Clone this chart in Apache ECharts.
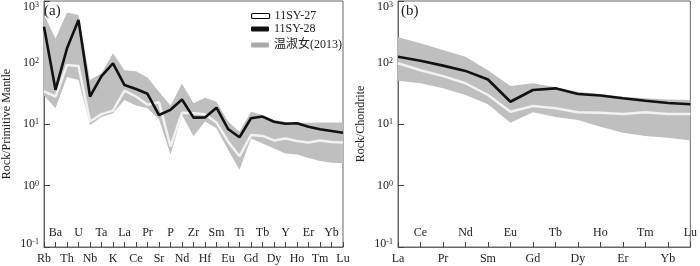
<!DOCTYPE html>
<html><head><meta charset="utf-8">
<script src="https://cdn.jsdelivr.net/npm/echarts@6/dist/echarts.min.js"></script>
<style>html,body{margin:0;padding:0;background:#fff}#c{width:700px;height:266px}</style>
</head><body><div id="c"></div>
<script>
// ---------- data ----------
const catsA = ['Rb','Ba','Th','U','Nb','Ta','K','La','Ce','Pr','Sr','P','Nd','Zr','Hf','Sm','Eu','Ti','Gd','Tb','Dy','Y','Ho','Er','Tm','Yb','Lu'];
const sy28A = [382, 36, 170, 490, 28, 60, 97, 43, 37, 31, 14, 17, 25, 12.7, 12.8, 18.4, 8.3, 6.1, 12.4, 13.2, 10.9, 10.1, 10.3, 9.0, 8.2, 7.7, 7.2];
const sy27A = [34, 28, 91, 88, 11, 14.5, 16.5, 35, 28, 20.5, 22.5, 4.3, 15.3, 14.9, 14.4, 10.5, 5.2, 3.0, 6.6, 6.4, 5.4, 5.8, 5.3, 5.0, 5.4, 5.1, 5.0];
const upperA = [600, 245, 650, 590, 52, 67, 141, 75, 72, 57, 33.5, 20, 45, 21.7, 26.8, 23, 11, 7.5, 15.8, 14, 11.6, 10.9, 10.5, 10.5, 10.6, 10.6, 10.6];
const lowerA = [29, 18, 58, 52, 9.6, 13, 15, 24.5, 20, 18, 12, 3.2, 14, 6.3, 11, 8.5, 3.8, 1.8, 5.8, 4.8, 4.0, 3.3, 3.2, 2.8, 2.5, 2.35, 2.3];

const catsB = ['La','Ce','Pr','Nd','Sm','Eu','Gd','Tb','Dy','Ho','Er','Tm','Yb','Lu'];
const sy28B = [124, 107, 89, 73, 53, 23, 35.7, 38, 30.7, 29, 26.2, 23.9, 22, 20.9];
const sy27B = [97, 75, 60, 46, 29.6, 15.8, 19.6, 18, 15.5, 15.3, 14.5, 15.5, 14.5, 14.5];
const upperB = [257, 205, 160, 124, 75, 41.5, 46, 39.7, 33.5, 30.7, 27.8, 26.3, 25, 24.5];
const lowerB = [50.7, 46, 38, 29.6, 21, 10.5, 15.5, 13, 11.6, 9.0, 7.2, 6.4, 6.0, 5.4];

const names = ['11SY-27', '11SY-28', '温淑女(2013)'];
const yTitles = ['Rock/Primitive Mantle', 'Rock/Chondrite'];

// ---------- styles ----------
const FONT = "'Liberation Serif', 'Noto Sans CJK SC', serif";
const TXT = '#222';
const AX = '#666';
const BAND = '#bfbfbf';

function yLabel(v){
  const e = Math.round(Math.log10(v));
  if (e === 3) return '{t|10}{ts|3}';
  if (e === -1) return '{d|10}{ds|-1}';
  return '{b|10}{s|' + e + '}';
}
const rich = {
  b: {fontSize:12, fontFamily:FONT, color:TXT},
  s: {fontSize:8, fontFamily:FONT, color:TXT, verticalAlign:'top'},
  t: {fontSize:12, fontFamily:FONT, color:TXT, padding:[12,0,0,0]},
  ts: {fontSize:8, fontFamily:FONT, color:TXT, verticalAlign:'top', padding:[12,0,0,0]},
  d: {fontSize:12, fontFamily:FONT, color:TXT, padding:[0,0,6,0]},
  ds: {fontSize:8, fontFamily:FONT, color:TXT, verticalAlign:'top', padding:[0,0,6,0]}
};

function xAxes(g, cats){
  const lab = {fontFamily:FONT, fontSize:12, color:TXT};
  return [
    {type:'category', gridIndex:g, data:cats, boundaryGap:false, position:'bottom',
     axisLine:{show:true, lineStyle:{color:AX, width:1}},
     axisTick:{show:true, inside:true, length:5, interval:0, lineStyle:{color:'#444'}},
     axisLabel:Object.assign({interval:(i)=>i%2===0, margin:6}, lab),
     splitLine:{show:false}},
    {type:'category', gridIndex:g, data:cats, boundaryGap:false, position:'bottom',
     axisLine:{show:false}, axisTick:{show:false},
     axisLabel:Object.assign({inside:true, interval:(i)=>i%2===1, margin:8}, lab),
     splitLine:{show:false}}
  ];
}
function yAxis(g, title){
  return {type:'log', gridIndex:g, min:0.1, max:1000, logBase:10,
    axisLine:{show:true, lineStyle:{color:AX, width:1}},
    axisTick:{show:true, inside:true, length:6, lineStyle:{color:'#444'}},
    axisLabel:{formatter:yLabel, rich:rich, margin:5},
    minorTick:{show:false}, splitLine:{show:false},
    name:title, nameLocation:'middle', nameGap:31,
    nameTextStyle:{fontFamily:FONT, fontSize:12, color:TXT}};
}
function seriesFor(xi, yi, lower, upper, s27, s28, key){
  return [
    {type:'line', xAxisIndex:xi, yAxisIndex:yi, data:lower, stack:key, name:'low'+key,
     symbol:'none', lineStyle:{opacity:0, width:0}, silent:true, z:1},
    {type:'line', xAxisIndex:xi, yAxisIndex:yi, data:upper.map((u,i)=>u-lower[i]), stack:key, name:names[2],
     symbol:'none', lineStyle:{opacity:0, width:0}, itemStyle:{color:BAND},
     areaStyle:{color:BAND, opacity:1}, silent:true, z:1},
    {type:'line', xAxisIndex:xi, yAxisIndex:yi, data:s27, name:names[0], symbol:'none',
     lineStyle:{color:'#f2f2f2', width:2.5}, itemStyle:{color:'#f2f2f2'}, z:2},
    {type:'line', xAxisIndex:xi, yAxisIndex:yi, data:s28, name:names[1], symbol:'none',
     lineStyle:{color:'#111', width:2.6}, itemStyle:{color:'#111'}, z:3}
  ];
}

const legendBase = {orient:'vertical', left:246, itemWidth:18, itemHeight:5, selectedMode:false,
  textStyle:{fontFamily:FONT, fontSize:12, color:TXT}};

const chart = echarts.init(document.getElementById('c'), null, {renderer:'canvas'});
chart.setOption({
  animation:false,
  backgroundColor:'#fff',
  grid:[
    {left:42, right:357, top:1, bottom:19, show:true, borderColor:AX, borderWidth:1, backgroundColor:'transparent'},
    {left:398, right:2, top:1, bottom:19, show:true, borderColor:AX, borderWidth:1, backgroundColor:'transparent'}
  ],
  xAxis: xAxes(0, catsA).concat(xAxes(1, catsB)),
  yAxis: [yAxis(0, yTitles[0]), yAxis(1, yTitles[1])],
  legend:[
    Object.assign({top:5, data:[{name:names[0], icon:'roundRect', itemStyle:{color:'#fff', borderColor:'#000', borderWidth:1.2}}]}, legendBase),
    Object.assign({top:18, data:[{name:names[1], icon:'roundRect', itemStyle:{color:'#111'}}]}, legendBase),
    Object.assign({top:34, data:[{name:names[2], icon:'roundRect', itemStyle:{color:'#aaa'}}]}, legendBase)
  ],
  graphic:[
    {type:'text', left:44, top:4, style:{text:'(a)', font:"15px 'Liberation Serif'", fill:TXT}},
    {type:'text', left:401, top:4, style:{text:'(b)', font:"15px 'Liberation Serif'", fill:TXT}}
  ],
  series: seriesFor(0, 0, lowerA, upperA, sy27A, sy28A, 'a').concat(seriesFor(2, 1, lowerB, upperB, sy27B, sy28B, 'b'))
});
</script></body></html>
